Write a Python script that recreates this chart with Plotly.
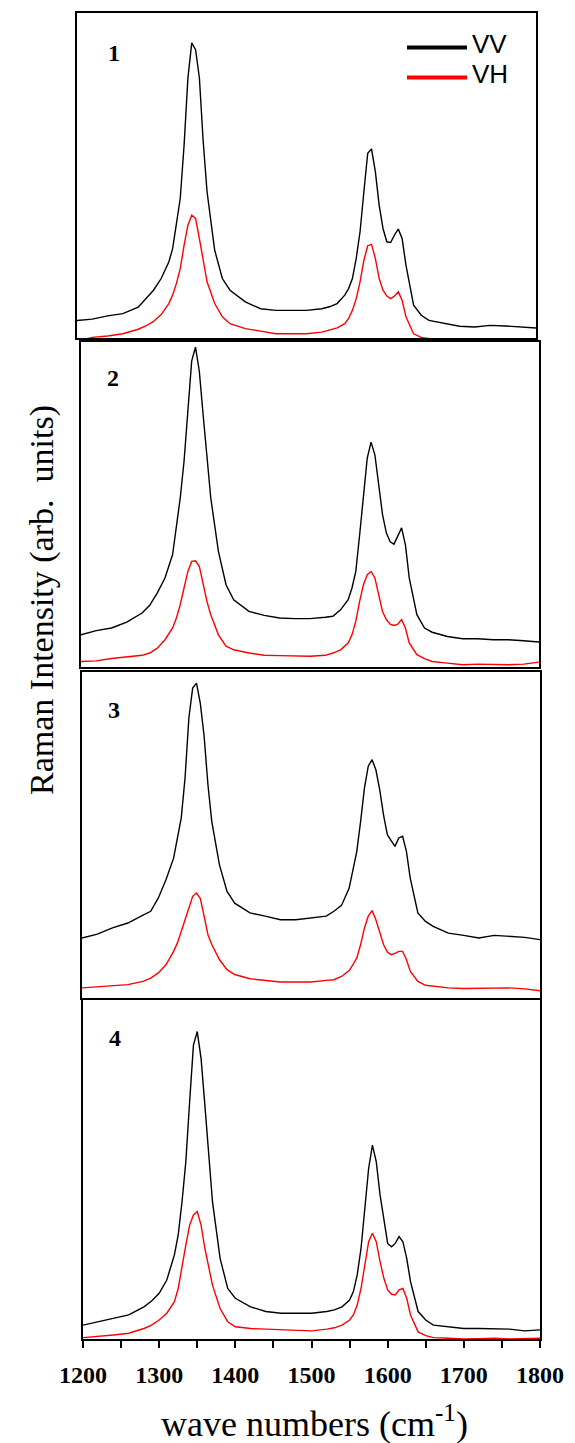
import plotly.graph_objects as go

# ---------------- data ----------------
WN = [1200, 1220, 1240, 1260, 1280, 1290, 1300, 1310, 1320, 1325, 1330, 1335, 1340, 1345,
      1350, 1355, 1360, 1365, 1370, 1380, 1390, 1400, 1420, 1440, 1460, 1480, 1500, 1520,
      1530, 1540, 1550, 1555, 1560, 1565, 1570, 1575, 1580, 1585, 1590, 1595, 1600, 1605,
      1610, 1615, 1620, 1625, 1630, 1640, 1650, 1660, 1680, 1700, 1720, 1740, 1760, 1780, 1800]

P1_VV = [5.4, 5.8, 6.8, 7.5, 9.5, 12.1, 14.7, 18.3, 23.4, 27.5, 34.7, 43.0, 59.4, 80.0,
         90.8, 88.7, 80.0, 60.4, 45.0, 27.0, 18.3, 14.7, 11.1, 9.0, 8.5, 8.5, 8.5, 9.0,
         9.6, 10.6, 13.2, 15.2, 18.3, 24.5, 32.7, 45.0, 56.8, 58.2, 51.2, 40.9, 33.7, 29.6,
         29.4, 31.7, 33.5, 30.6, 22.4, 10.1, 7.0, 5.4, 4.4, 3.6, 3.4, 3.9, 3.7, 3.4, 3.1]
P1_VH = [-1.0, 0.2, 0.6, 1.3, 2.7, 3.7, 5.1, 7.2, 10.6, 13.2, 16.8, 21.4, 28.6, 34.7,
         37.8, 36.8, 30.6, 23.4, 17.3, 10.6, 6.5, 4.4, 2.9, 2.1, 1.3, 1.3, 1.3, 1.8,
         2.4, 3.1, 4.4, 6.0, 8.5, 12.1, 17.3, 23.9, 28.4, 28.8, 24.5, 18.3, 14.7, 12.9,
         12.1, 12.9, 14.2, 11.6, 6.5, 1.3, 0.2, -0.2, -1.0, -1.0, -1.0, -1.0, -1.0, -1.0, -1.0]

P2_VV = [9.9, 11.2, 12.0, 13.8, 16.6, 19.0, 22.8, 27.4, 34.6, 42.8, 52.0, 63.3, 79.7, 94.1,
         98.4, 91.0, 77.6, 64.3, 52.0, 35.6, 25.3, 20.7, 17.1, 15.9, 15.1, 14.9, 14.9, 15.3,
         15.6, 17.6, 20.7, 24.3, 29.4, 40.6, 52.0, 64.3, 69.2, 65.3, 56.1, 46.9, 41.3, 38.5,
         37.8, 40.2, 42.8, 37.6, 27.4, 16.1, 12.0, 10.7, 9.4, 8.7, 8.7, 8.4, 8.4, 8.1, 7.7]
P2_VH = [1.7, 1.9, 2.6, 3.0, 3.6, 4.3, 5.8, 8.4, 12.0, 15.1, 19.2, 24.3, 29.4, 32.5,
         32.7, 31.0, 25.8, 20.2, 16.1, 9.9, 6.4, 5.3, 4.3, 3.6, 3.5, 3.5, 3.3, 3.6,
         4.3, 5.3, 7.4, 9.9, 14.1, 20.2, 25.3, 28.4, 29.4, 27.4, 22.3, 17.1, 14.6, 13.2,
         12.8, 13.2, 14.6, 12.0, 7.4, 3.8, 2.6, 1.7, 1.2, 0.7, 0.9, 0.7, 0.7, 0.9, 1.5]

P3_VV = [18.4, 19.6, 21.5, 23.0, 25.4, 26.6, 30.7, 36.3, 42.9, 48.6, 55.2, 67.5, 85.9, 95.1,
         96.6, 90.4, 80.3, 65.4, 54.2, 40.9, 32.7, 29.1, 26.1, 25.1, 24.0, 24.0, 24.5, 25.1,
         26.6, 28.4, 33.7, 38.9, 45.0, 54.2, 64.4, 71.1, 73.1, 70.0, 63.9, 56.2, 50.1, 48.3,
         46.5, 49.1, 49.6, 45.0, 36.8, 26.1, 23.5, 22.0, 19.9, 19.2, 18.4, 19.2, 18.9, 18.6, 17.9]
P3_VH = [3.1, 3.4, 3.8, 4.1, 5.1, 6.1, 7.7, 10.2, 14.3, 16.9, 20.4, 24.0, 28.1, 31.2,
         32.2, 30.5, 25.1, 19.4, 16.4, 11.8, 8.7, 7.2, 5.9, 5.4, 4.9, 4.9, 4.9, 5.4,
         5.6, 6.6, 8.4, 10.2, 12.3, 16.4, 21.5, 25.1, 26.8, 24.0, 19.9, 16.4, 14.1, 13.3,
         13.7, 14.3, 14.3, 11.8, 8.2, 5.1, 3.9, 3.6, 3.1, 2.9, 2.9, 2.9, 3.1, 2.8, 2.2]

P4_VV = [4.1, 5.1, 6.1, 7.1, 9.5, 11.2, 13.5, 17.4, 24.8, 30.7, 40.5, 52.3, 70.0, 86.7,
         90.7, 82.8, 69.0, 54.3, 40.5, 23.8, 14.9, 12.0, 9.5, 8.1, 7.6, 7.6, 7.6, 8.1,
         8.6, 9.5, 11.5, 14.0, 18.9, 26.7, 37.6, 50.3, 57.2, 52.3, 42.5, 34.6, 28.2, 27.2,
         28.2, 30.2, 28.7, 23.8, 16.9, 8.1, 5.6, 4.1, 3.6, 3.1, 3.1, 2.9, 2.9, 2.4, 2.7]
P4_VH = [0.4, 0.7, 1.2, 1.7, 3.1, 4.1, 5.6, 7.6, 11.0, 14.9, 21.8, 27.7, 33.6, 36.6,
         37.6, 33.6, 26.7, 20.8, 15.9, 9.0, 5.1, 3.6, 3.1, 2.9, 2.7, 2.7, 2.4, 2.9,
         3.3, 4.1, 5.6, 7.1, 10.0, 14.9, 21.8, 28.7, 31.2, 28.7, 22.8, 17.9, 14.5, 13.2,
         13.0, 14.5, 14.9, 12.0, 7.1, 2.1, 1.0, 0.4, 0.2, 0.0, 0.1, 0.2, 0.0, 0.1, 0.2]

VV_SERIES = [P1_VV, P2_VV, P3_VV, P4_VV]
VH_SERIES = [P1_VH, P2_VH, P3_VH, P4_VH]
PANEL_LABELS = ["1", "2", "3", "4"]
SERIES_NAMES = ["VV", "VH"]
X_MAJOR_STEP = 100
X_MINOR_STEP = 50

# ---------------- layout geometry (pixels in the final page) ----------------
W, H = 575, 1443
PAGE_OFFSET = 8  # default body margin of the html page
PANELS_PX = [  # left, top, right, bottom
    (77, 13, 536, 338),
    (81, 342, 539, 667),
    (82, 672, 540, 998),
    (83, 1000, 540, 1339),
]
LABEL_PX = [(114, 53), (113, 378), (114, 710), (115, 1038)]

SERIF = "Liberation Serif"
SANS = "Liberation Sans"


def fx(p):
    return (p - PAGE_OFFSET) / W


def fy(p):
    return 1 - (p - PAGE_OFFSET) / H


fig = go.Figure()
layout = dict(
    width=W, height=H,
    margin=dict(l=0, r=0, t=0, b=0, autoexpand=False),
    paper_bgcolor="white", plot_bgcolor="white",
    showlegend=False,
)

for i in range(4):
    sfx = "" if i == 0 else str(i + 1)
    l, t, r, b = PANELS_PX[i]
    fig.add_trace(go.Scatter(x=WN, y=VV_SERIES[i], mode="lines", name=SERIES_NAMES[0],
                             line=dict(color="black", width=1.4),
                             xaxis="x" + sfx, yaxis="y" + sfx))
    fig.add_trace(go.Scatter(x=WN, y=VH_SERIES[i], mode="lines", name=SERIES_NAMES[1],
                             line=dict(color="#ff0000", width=1.4),
                             xaxis="x" + sfx, yaxis="y" + sfx))
    lw = 2 if i == 3 else 1.5
    xa = dict(domain=[fx(l), fx(r)], anchor="y" + sfx, range=[1200, 1800],
              showline=True, mirror=True, linecolor="black", linewidth=lw,
              showgrid=False, zeroline=False, fixedrange=True, automargin=False)
    if i == 3:
        xa.update(ticks="outside", ticklen=7, tickwidth=1.5, tickcolor="black",
                  tickmode="linear", tick0=1200, dtick=X_MAJOR_STEP,
                  minor=dict(ticks="outside", ticklen=7, tickwidth=1.5, tickcolor="black",
                             dtick=X_MINOR_STEP, tick0=1200, showgrid=False),
                  tickfont=dict(family=SERIF, size=24, color="black", weight="bold"),
                  ticklabelstandoff=6)
    else:
        xa.update(showticklabels=False, ticks="")
    ya = dict(domain=[fy(b), fy(t)], anchor="x" + sfx, range=[0, 100],
              showline=True, mirror=True, linecolor="black", linewidth=lw,
              showgrid=False, zeroline=False, showticklabels=False, ticks="",
              fixedrange=True, automargin=False)
    layout["xaxis" + sfx] = xa
    layout["yaxis" + sfx] = ya

annotations = []
for (px, py), lab in zip(LABEL_PX, PANEL_LABELS):
    annotations.append(dict(x=fx(px), y=fy(py), xref="paper", yref="paper",
                            text="<b>" + lab + "</b>", showarrow=False,
                            xanchor="center", yanchor="middle",
                            font=dict(family=SERIF, size=24, color="black")))

# legend (drawn as line samples + text)
shapes = []
legend_rows = [(SERIES_NAMES[0], "black", 47.5), (SERIES_NAMES[1], "#ff0000", 77.5)]
for name, col, yy in legend_rows:
    shapes.append(dict(type="line", xref="paper", yref="paper",
                       x0=fx(407), x1=fx(467), y0=fy(yy), y1=fy(yy),
                       line=dict(color=col, width=4)))
    annotations.append(dict(x=fx(470), y=fy(yy - 3), xref="paper", yref="paper",
                            text=name, showarrow=False, xanchor="left", yanchor="middle",
                            font=dict(family=SANS, size=26, color="black")))

# axis titles
annotations.append(dict(x=fx(314), y=fy(1421), xref="paper", yref="paper",
                        text="wave numbers (cm<sup>-1</sup>)", showarrow=False,
                        xanchor="center", yanchor="middle",
                        font=dict(family=SERIF, size=36, color="black")))
annotations.append(dict(x=fx(42), y=fy(600), xref="paper", yref="paper",
                        text="Raman Intensity (arb.  units)", showarrow=False,
                        textangle=-90, xanchor="center", yanchor="middle",
                        font=dict(family=SERIF, size=34, color="black")))

layout["annotations"] = annotations
layout["shapes"] = shapes
fig.update_layout(**layout)

fig.write_html("out.html")
